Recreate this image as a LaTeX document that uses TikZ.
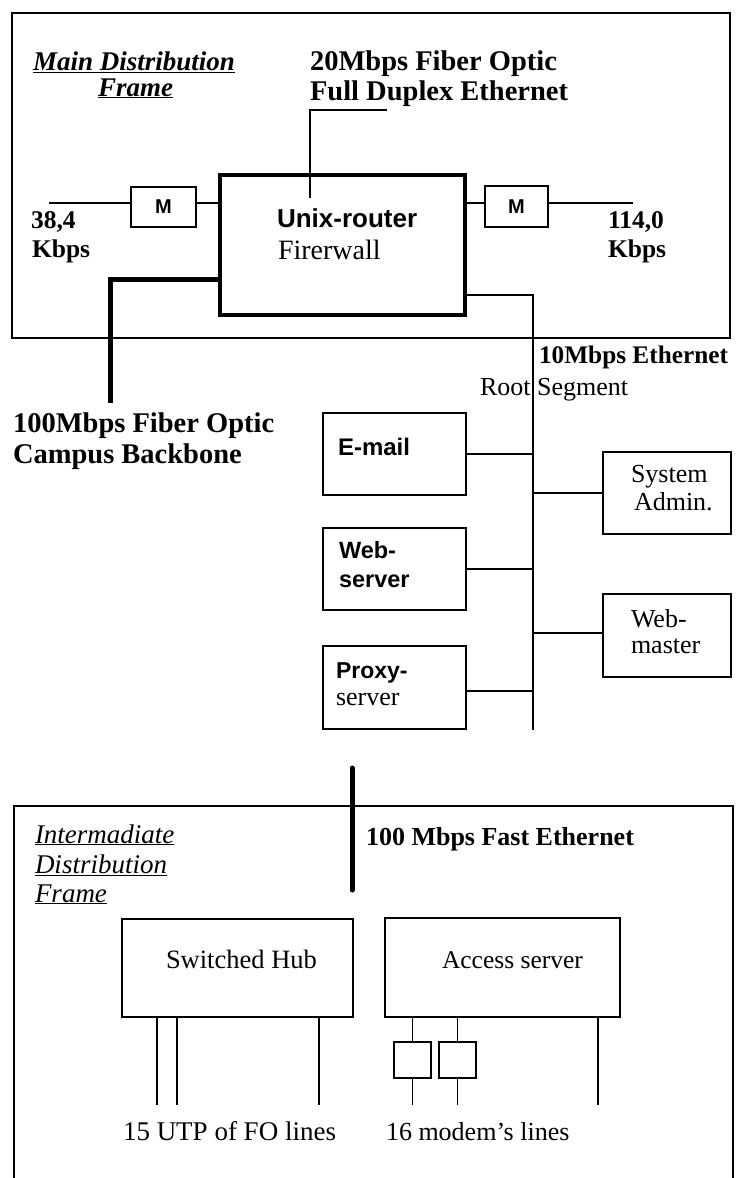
\documentclass[tikz,border=0pt]{standalone}
\usepackage{fontspec}
\setmainfont{Liberation Serif}
\newfontfamily\hsans{Liberation Sans}
\newcommand\myfs[1]{\fontsize{#1}{#1}\selectfont}
\begin{document}
\begin{tikzpicture}[x=1pt,y=-1pt,
  txt/.style={inner sep=0pt, outer sep=0pt, anchor=base west},
  ctxt/.style={inner sep=0pt, outer sep=0pt, anchor=base},
  box/.style={draw, line width=1.5pt, inner sep=0pt, outer sep=0pt},
  frm/.style={draw, line width=1.6pt},
  wire/.style={line width=1.5pt},
  thick line/.style={line width=5pt},
  bser/.style={font=\myfs{28.5}\bfseries},
  bsmall/.style={font=\myfs{25.5}\bfseries},
  rser/.style={font=\myfs{26}},
  bsans/.style={font=\hsans\myfs{23.5}\bfseries}]
\useasboundingbox (0,0) rectangle (736,1178);

% ---------- top frame ----------
\node[frm, minimum width=718pt, minimum height=325pt, inner sep=0pt] (mdf) at (371,175.5) {};
\node[ctxt, font=\myfs{27}\bfseries\itshape] (mdf1) at (134,70) {\underline{Main Distribution}};
\node[ctxt, font=\myfs{27}\bfseries\itshape] (mdf2) at (135.5,96) {\underline{Frame}};

\node[txt, bser] (fo1) at (310,70) {20Mbps Fiber Optic};
\node[txt, bser] (fo2) at (310,100) {Full Duplex Ethernet};

\node[box, line width=4pt, minimum width=245pt, minimum height=140pt] (router) at (342.5,245) {};
\node[txt, font=\hsans\myfs{26}\bfseries] (rt1) at (277,227) {Unix-router};
\node[txt, font=\myfs{28}] (rt2) at (278,259) {Firerwall};

\node[box, minimum width=65pt, minimum height=40pt, font=\hsans\myfs{20}\bfseries] (mL) at (163.5,207) {M};
\node[box, minimum width=63pt, minimum height=41pt, font=\hsans\myfs{20}\bfseries] (mR) at (516.5,206.5) {M};

\node[txt, bsmall] (sl1) at (31,228) {38,4};
\node[txt, bsmall] (sl2) at (32,257) {Kbps};
\node[txt, bsmall] (sr1) at (608,228) {114,0};
\node[txt, bsmall] (sr2) at (608,257) {Kbps};

\coordinate (inL) at (49,203);
\coordinate (outR) at (633,203);
\draw[wire] (inL) -- (mL.west |- inL);
\draw[wire] (mL.east |- inL) -- (router.west |- inL);
\draw[wire] (router.east |- inL) -- (mR.west |- inL);
\draw[wire] (mR.east |- inL) -- (outR);

% leader of the 20Mbps label
\coordinate (ldA) at (387,110);
\coordinate (ldB) at (310,110);
\coordinate (ldC) at (310,198);
\draw[wire] (ldA) -- (ldB) -- (ldC);

% backbone
\coordinate (bbCorner) at (110,279);
\coordinate (bbEnd) at (110,403);
\draw[thick line] (router.west |- bbCorner) -- (bbCorner) -- (bbEnd);
\node[txt, bser] (bb1) at (13,432) {100Mbps Fiber Optic};
\node[txt, bser] (bb2) at (13,463) {Campus Backbone};

% ethernet bus
\coordinate (busTop) at (533,295);
\coordinate (busEnd) at (533,730);
\draw[line width=2pt] (router.east |- busTop) -- (busTop) -- (busEnd);
\node[txt, font=\myfs{25.3}\bfseries] (eth1) at (539,363) {10Mbps Ethernet};
\node[txt, rser] (eth2) at (480,395) {Root Segment};

% servers
\node[box, minimum width=143pt, minimum height=82pt] (email) at (394.5,454) {};
\node[txt, font=\hsans\myfs{24}\bfseries] (emailt) at (338,455) {E-mail};
\node[box, minimum width=143pt, minimum height=82pt] (websrv) at (394.5,569) {};
\node[txt, bsans] (ws1) at (339,558) {Web-};
\node[txt, bsans] (ws2) at (339,587) {server};
\node[box, minimum width=143pt, minimum height=83pt] (proxy) at (394.5,687.5) {};
\node[txt, font=\hsans\myfs{23}\bfseries] (px1) at (336,678) {Proxy-};
\node[txt, font=\myfs{26}] (px2) at (336,705) {server};

\node[box, minimum width=128pt, minimum height=82pt] (sysadm) at (667,493) {};
\node[txt, rser] (sa1) at (631,482) {System};
\node[txt, rser] (sa2) at (634,510) {Admin.};
\node[box, minimum width=128pt, minimum height=83pt] (webmst) at (667,635.5) {};
\node[txt, rser] (wm1) at (631,627) {Web-};
\node[txt, rser] (wm2) at (631,653) {master};

\draw[wire] (email.east) -- (email.east -| busTop);
\draw[wire] (websrv.east) -- (websrv.east -| busTop);
\draw[wire] (proxy.east |- 0,691) -- (busTop |- 0,691);
\draw[wire] (sysadm.west) -- (sysadm.west -| busTop);
\draw[wire] (webmst.west |- 0,633) -- (busTop |- 0,633);

% ---------- bottom frame ----------
\coordinate (idfTL) at (14,806);
\coordinate (idfTR) at (733,806);
\draw[frm] (14,1190) -- (idfTL) -- (idfTR) -- (733,1190);
\node[txt, font=\myfs{27}\itshape] (idf1) at (35,843) {\underline{Intermadiate}};
\node[txt, font=\myfs{27}\itshape] (idf2) at (35,873) {\underline{Distribution}};
\node[txt, font=\myfs{27}\itshape] (idf3) at (35,902) {\underline{Frame}};

\coordinate (feTop) at (352,768);
\coordinate (feBot) at (352,890);
\draw[thick line, line cap=round] (feTop) -- (feBot);
\node[txt, font=\myfs{26}\bfseries] (fe) at (366,845) {100 Mbps Fast Ethernet};

\node[box, minimum width=231pt, minimum height=98pt] (hub) at (237.5,968) {};
\node[txt, font=\myfs{26.5}] (hubt) at (166,968) {Switched Hub};
\node[box, minimum width=235pt, minimum height=99pt] (access) at (502.5,967.5) {};
\node[txt, font=\myfs{25.5}] (acct) at (442,968) {Access server};

\coordinate (h1) at (157,1105);
\coordinate (h2) at (177,1105);
\coordinate (h3) at (319,1105);
\draw[wire] (hub.south -| h1) -- (h1);
\draw[wire] (hub.south -| h2) -- (h2);
\draw[wire] (hub.south -| h3) -- (h3);

\node[box, minimum width=37pt, minimum height=36pt] (mod1) at (412.5,1060) {};
\node[box, minimum width=37pt, minimum height=36pt] (mod2) at (457.5,1060) {};
\coordinate (a1) at (412.5,1105);
\coordinate (a2) at (457.5,1105);
\coordinate (a3) at (598,1105);
\draw[wire] (access.south -| mod1.north) -- (mod1.north);
\draw[wire] (mod1.south) -- (a1);
\draw[wire] (access.south -| mod2.north) -- (mod2.north);
\draw[wire] (mod2.south) -- (a2);
\draw[wire] (access.south -| a3) -- (a3);

\node[txt, font=\myfs{27}] (utp) at (123,1140) {15 UTP of FO lines};
\node[txt, font=\myfs{26}] (modl) at (386,1140) {16 modem's lines};
\end{tikzpicture}
\end{document}
